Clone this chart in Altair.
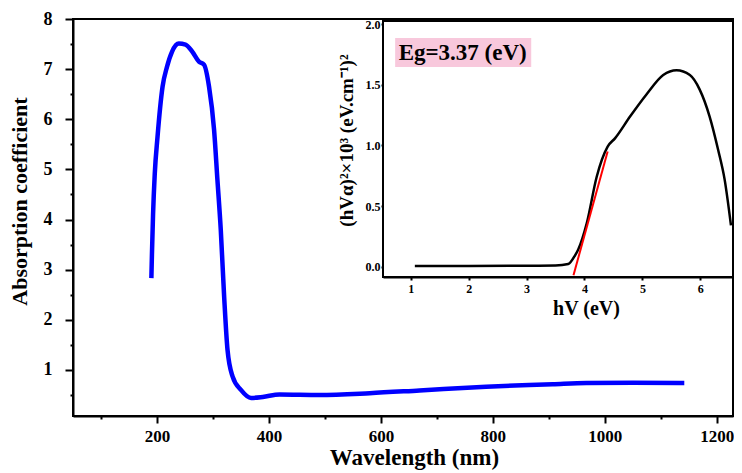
import altair as alt
import pandas as pd

# ---- main spectrum (blue) ----
wavelength = [190, 191, 193, 196, 201, 210, 218, 227, 239, 251, 263, 275, 284, 293, 302, 308,
              314, 320, 326, 335, 350, 368, 389, 419, 490, 580, 669, 788, 907, 967, 1050, 1142]
absorption = [2.83, 3.3, 4.1, 4.9, 5.65, 6.65, 7.05, 7.35, 7.51, 7.49, 7.35, 7.15, 7.09, 6.65, 5.79, 4.79,
              3.79, 2.46, 1.40, 0.87, 0.60, 0.44, 0.46, 0.51, 0.50, 0.535, 0.59, 0.665, 0.715, 0.74, 0.745, 0.74]

# ---- inset Tauc plot (black) ----
photon_energy = [1.07, 2.0, 3.0, 3.5, 3.72, 3.84, 3.89, 4.04, 4.21, 4.40, 4.53, 4.79, 5.07, 5.36,
                 5.59, 5.82, 5.99, 6.16, 6.31, 6.42, 6.53]
tauc_value = [0.005, 0.005, 0.008, 0.01, 0.022, 0.096, 0.14, 0.36, 0.74, 0.99, 1.06, 1.24, 1.42, 1.58,
              1.62, 1.58, 1.46, 1.24, 0.96, 0.72, 0.34]

# ---- linear fit (red) ----
fit_energy = [3.81, 4.40]
fit_value = [-0.07, 0.95]

# ---- ticks ----
main_x_ticks = [200, 400, 600, 800, 1000, 1200]
main_x_minor = [100, 300, 500, 700, 900, 1100]
main_y_ticks = [1, 2, 3, 4, 5, 6, 7, 8]
main_y_minor = [0.5, 1.5, 2.5, 3.5, 4.5, 5.5, 6.5, 7.5]
inset_x_ticks = [1, 2, 3, 4, 5, 6]
inset_y_ticks = [0.0, 0.5, 1.0, 1.5, 2.0]

# ---- annotation ----
label_text = "Eg=3.37 (eV)"
label_box_x = [0.73]
label_box_x2 = [3.08]
label_box_y = [1.646]
label_box_y2 = [1.885]
label_pos_x = [0.79]
label_pos_y = [1.765]

FONT = "Liberation Serif"
main_x_domain = [50, 1229]
main_y_domain = [0.08, 8]
inset_x_domain = [0.52, 6.565]
inset_y_domain = [-0.085, 2.026]

W, H = 660, 397

main_df = pd.DataFrame({"wl": wavelength, "a": absorption})

blue = alt.Chart(main_df).mark_line(color="#0000ff", strokeWidth=4.5, interpolate="monotone").encode(
    x=alt.X("wl:Q", scale=alt.Scale(domain=main_x_domain, nice=False, zero=False),
            axis=alt.Axis(values=main_x_ticks, orient="bottom", title="Wavelength (nm)", format="d",
                          tickSize=7, labelPadding=5, titlePadding=2, labelFontSize=17,
                          titleFontSize=23, titleX=341, grid=False)),
    y=alt.Y("a:Q", scale=alt.Scale(domain=main_y_domain, nice=False, zero=False),
            axis=alt.Axis(values=main_y_ticks, orient="left", title="Absorption coefficient",
                          tickSize=8, labelPadding=13, titlePadding=12, labelFontSize=18,
                          titleFontSize=22, titleY=182, grid=False)),
)

minor_df = pd.DataFrame({"mx": [main_x_minor[0]], "my": [main_y_minor[0]]})
minor = alt.Chart(minor_df).mark_point(opacity=0).encode(
    x=alt.X("mx:Q", axis=alt.Axis(values=main_x_minor, orient="bottom", labels=False, domain=False,
                                  tickSize=3, title=None, grid=False)),
    y=alt.Y("my:Q", axis=alt.Axis(values=main_y_minor, orient="left", labels=False, domain=False,
                                  tickSize=3, title=None, grid=False)),
)

main = alt.layer(blue, minor).resolve_axis(x="independent", y="independent")

frame_df = pd.DataFrame({"x": [inset_x_domain[0]], "x2": [inset_x_domain[1]],
                         "y": [inset_y_domain[0]], "y2": [inset_y_domain[1]]})
frame = alt.Chart(frame_df).mark_rect(fill="white", stroke="black", strokeWidth=2).encode(
    x=alt.X("x:Q", scale=alt.Scale(domain=inset_x_domain, range=[310, 660], nice=False, zero=False),
            axis=alt.Axis(values=inset_x_ticks, orient="bottom", offset=-139, title="hV (eV)",
                          format="d", tickSize=3, labelPadding=3, titlePadding=4, labelFontSize=12,
                          titleFontSize=20, titleX=513, grid=False)),
    x2="x2:Q",
    y=alt.Y("y:Q", scale=alt.Scale(domain=inset_y_domain, range=[258, 2], nice=False, zero=False),
            axis=alt.Axis(values=inset_y_ticks, orient="left", offset=-310, format=".1f",
                          title="(hVα)²×10³ (eV.cm⁻¹)²", tickSize=2, labelPadding=1,
                          titlePadding=9, labelFontSize=12, titleFontSize=19, titleY=121,
                          grid=False)),
    y2="y2:Q",
)

tauc_df = pd.DataFrame({"x": photon_energy, "y": tauc_value})
tauc = alt.Chart(tauc_df).mark_line(color="black", strokeWidth=2.5, interpolate="monotone").encode(
    x="x:Q", y="y:Q")

fit_df = pd.DataFrame({"x": fit_energy, "y": fit_value})
fit = alt.Chart(fit_df).mark_line(color="#ff0000", strokeWidth=2).encode(x="x:Q", y="y:Q")

box_df = pd.DataFrame({"x": label_box_x, "x2": label_box_x2, "y": label_box_y, "y2": label_box_y2})
box = alt.Chart(box_df).mark_rect(fill="#f8c8dc").encode(x="x:Q", x2="x2:Q", y="y:Q", y2="y2:Q")

text_df = pd.DataFrame({"x": label_pos_x, "y": label_pos_y, "t": [label_text]})
text = alt.Chart(text_df).mark_text(align="left", baseline="middle", font=FONT, fontWeight="bold",
                                    fontSize=23, color="black").encode(x="x:Q", y="y:Q", text="t:N")

inset = alt.layer(frame, box, text, tauc, fit)

chart = alt.layer(main, inset).resolve_scale(x="independent", y="independent").resolve_axis(
    x="independent", y="independent"
).properties(
    width=W, height=H,
    autosize=alt.AutoSizeParams(type="none"),
    padding={"left": 65, "top": 11, "right": 1, "bottom": 54},
).configure_view(
    stroke="black", strokeWidth=2
).configure_axis(
    labelFont=FONT, titleFont=FONT, labelFontWeight="bold", titleFontWeight="bold",
    labelColor="black", titleColor="black", domainColor="black", tickColor="black",
    domainWidth=2, tickWidth=2, labelFlush=False,
)

chart.save("out.html", embed_options={"renderer": "svg", "actions": False})
